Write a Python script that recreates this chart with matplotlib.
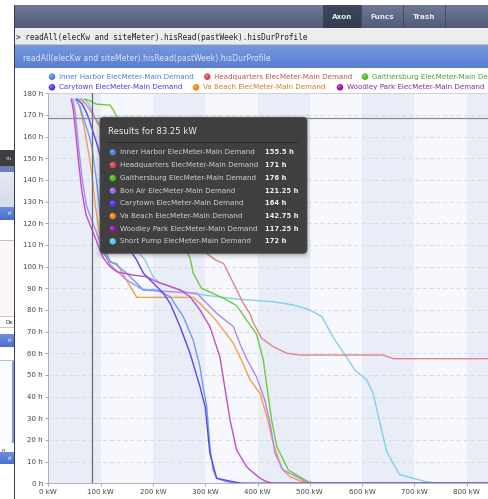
import matplotlib
matplotlib.use("Agg")
import matplotlib.pyplot as plt
from matplotlib.patches import Rectangle, FancyBboxPatch, Circle
import matplotlib.colors as mcolors

# ---------------- data ----------------
series_names = [
    "Inner Harbor ElecMeter-Main Demand",
    "Headquarters ElecMeter-Main Demand",
    "Gaithersburg ElecMeter-Main Demand",
    "Bon Air ElecMeter-Main Demand",
    "Carytown ElecMeter-Main Demand",
    "Va Beach ElecMeter-Main Demand",
    "Woodley Park ElecMeter-Main Demand",
    "Short Pump ElecMeter-Main Demand",
]

inner_harbor_kw = [52, 60, 68, 76, 83.25, 92, 100, 108, 118, 131, 150, 182, 207, 233, 258, 277, 290, 296, 303, 309, 315, 322, 340, 360, 850]
inner_harbor_h = [177.25, 174, 168, 162, 155.5, 140, 122, 108, 102.5, 100.7, 96.9, 89.2, 89.2, 86.1, 76.9, 66.1, 53.8, 44.6, 35.3, 16.9, 6.1, 2.3, 0.8, 0, 0]

headquarters_kw = [62, 72, 83.25, 95, 110, 140, 180, 220, 260, 290, 303, 320, 335, 354, 373, 386, 392, 408, 430, 456, 481, 640, 660, 850]
headquarters_h = [177.25, 175, 171, 166, 160, 148, 135, 123, 113, 108, 106, 103, 101.5, 92.3, 83, 78, 74, 66.9, 63, 60, 59.2, 59.2, 57.5, 57.5]

gaithersburg_kw = [70, 80, 83.25, 92, 118, 125, 131, 150, 180, 210, 240, 262, 271, 277, 293, 335, 360, 379, 398, 411, 418, 427, 437, 459, 478, 497, 510, 850]
gaithersburg_h = [177.25, 176.5, 176, 175, 174.5, 172, 169, 160, 146, 132, 118, 108, 104, 97, 90, 85.4, 82, 75.4, 69, 57, 44.6, 29.2, 16.9, 6.1, 3.4, 0.7, 0, 0]

bon_air_kw = [47, 52, 58, 65, 73, 83.25, 95, 105, 118, 131, 150, 182, 284, 322, 354, 367, 379, 398, 414, 424, 433.5, 449, 475, 493, 510, 850]
bon_air_h = [177.25, 170, 155, 140, 128, 121.25, 114, 107, 101, 98, 93.8, 89.2, 87.7, 78.4, 72.3, 64, 57.5, 49.2, 38.4, 27.7, 13.8, 6.1, 3, 0.7, 0, 0]

carytown_kw = [55, 65, 75, 83.25, 95, 110, 130, 150, 169, 182, 201, 220, 233, 252, 271, 290, 300, 309, 322, 354, 370, 850]
carytown_h = [177.25, 175, 170, 164, 155, 140, 122, 110, 103, 96.9, 92.3, 87.7, 83, 72.3, 60, 44.6, 35.3, 13.8, 2.3, 0.7, 0, 0]

va_beach_kw = [53, 60, 68, 76, 83.25, 90, 98, 106, 118, 131, 153, 169, 277, 290, 315, 354, 367, 386, 405, 418, 430, 446, 462, 481, 493, 510, 850]
va_beach_h = [177.25, 174, 165, 154, 142.75, 128, 115, 106, 102, 101.5, 92.3, 85.8, 85.8, 83, 76.9, 64.6, 58, 47.7, 41.5, 30.7, 18.5, 6.9, 3, 1.2, 0.3, 0, 0]

woodley_park_kw = [44, 48, 53, 58, 64, 72, 83.25, 95, 105, 118, 131, 162, 188, 207, 226, 252, 271, 290, 309, 328, 347.5, 360, 379, 386, 405, 418, 430, 850]
woodley_park_h = [177.25, 172, 160, 148, 135, 124, 117.25, 110, 104, 100, 97.6, 96.1, 95.3, 93, 91.5, 89.2, 86.1, 80, 72.3, 58.4, 29.2, 15.4, 7.7, 6.1, 2.3, 0.7, 0, 0]

short_pump_kw = [58, 70, 78, 83.25, 90, 100, 120, 150, 175, 185, 201, 214, 271, 347, 367, 430, 468, 500, 523, 548, 570, 586, 609, 621, 647, 672, 676, 698, 723, 749, 850]
short_pump_h = [177.25, 177, 175, 172, 168.5, 165, 150, 125, 106, 103, 95, 92.3, 87.7, 85.4, 84.9, 83.8, 82.3, 80, 76.9, 66.1, 58.4, 52.3, 47.7, 41.5, 14.6, 3.8, 3.8, 2.3, 0.7, 0, 0]

tooltip_kw = 83.25
crosshair_h = 168.6
tooltip_values = ["155.5 h", "171 h", "176 h", "121.25 h", "164 h", "142.75 h", "117.25 h", "172 h"]

x_ticks = [0, 100, 200, 300, 400, 500, 600, 700, 800]
x_tick_labels = ["0 kW", "100 kW", "200 kW", "300 kW", "400 kW", "500 kW", "600 kW", "700 kW", "800 kW"]
y_ticks = list(range(0, 181, 10))
y_tick_labels = [f"{v} h" for v in y_ticks]

command_text = "> readAll(elecKw and siteMeter).hisRead(pastWeek).hisDurProfile"
title_text = "readAll(elecKw and siteMeter).hisRead(pastWeek).hisDurProfile"
tabs = ["Axon", "Funcs", "Trash"]

# ---------------- style ----------------
line_colors = ["#6d9cf0", "#e08585", "#6ccc3a", "#ae8ae6", "#5846f2", "#f2a04a", "#c24ec6", "#80d0ea"]
dot_colors = ["#4a84ea", "#d84c4c", "#52c01e", "#9a6ddc", "#5236ee", "#f08a12", "#aa12aa", "#5cc8e2"]
legend_text_colors = ["#4a7cd6", "#b8504e", "#48a02a", "#8a66c8", "#4a38dc", "#cc7e1c", "#8a2898", "#4aa8c8"]

W, H, DPI = 488, 499, 100
fig = plt.figure(figsize=(W / DPI, H / DPI), dpi=DPI)
fig.patch.set_facecolor("white")

ui = fig.add_axes([0, 0, 1, 1], zorder=0)
ui.set_xlim(0, W)
ui.set_ylim(H, 0)
ui.axis("off")


def rect(ax, x0, y0, x1, y1, color, **kw):
    ax.add_patch(Rectangle((x0, y0), x1 - x0, y1 - y0, facecolor=color, edgecolor="none", **kw))


def vgrad(ax, x0, y0, x1, y1, ctop, cbot, **kw):
    import numpy as np
    ct = np.array(mcolors.to_rgb(ctop))
    cb = np.array(mcolors.to_rgb(cbot))
    n = int(round(y1 - y0)) * 2
    for i in range(n):
        t = i / max(n - 1, 1)
        c = ct * (1 - t) + cb * t
        ya = y0 + (y1 - y0) * i / n
        yb = y0 + (y1 - y0) * (i + 1) / n
        rect(ax, x0, ya, x1, yb + 0.05, tuple(c), **kw)


# ---- left background window fragments ----
rect(ui, 0, 150, 14, 165.5, "#3e3e40")
ui.text(12, 158, "su", color="#cfcfcf", fontsize=4, ha="right", va="center")
rect(ui, 0, 165.5, 14, 172, "#6f7cb8")
vgrad(ui, 0, 172, 14, 206.5, "#e6e9f2", "#d6dbea")
vgrad(ui, 0, 206.5, 14, 220, "#6b8ee0", "#4a6fcc")
ui.text(12, 213.5, "rt", color="white", fontsize=4, ha="right", va="center")
rect(ui, 0, 239.5, 14, 240.5, "#c0c0c0")
rect(ui, 0, 240.5, 14, 316, "#fbf6f6")
rect(ui, 0, 316, 14, 317, "#c8c8c8")
ui.text(13.5, 322, "De", color="#333333", fontsize=4, ha="right", va="center")
rect(ui, 0, 327, 14, 328, "#c8c8c8")
vgrad(ui, 0, 334, 14, 347, "#6b8ee0", "#4a6fcc")
ui.text(12, 340.5, "rt", color="white", fontsize=4, ha="right", va="center")
rect(ui, 0, 359.5, 14, 360.5, "#c0c0c0")
rect(ui, 0, 360.5, 14, 443, "#fafbff")
rect(ui, 12.3, 360.5, 13.5, 443, "#7f9de6")
ui.text(2, 450, "n", color="#333333", fontsize=4, ha="left", va="center")
vgrad(ui, 0, 452, 14, 464, "#6b8ee0", "#4a6fcc")
ui.text(12, 458, "rt", color="white", fontsize=4, ha="right", va="center")

# ---- main window border ----
rect(ui, 14, 5, 15.3, H, "#3d3650")

# ---- toolbar ----
vgrad(ui, 15.3, 5, W, 28.3, "#6e7894", "#515b77")
vgrad(ui, 323, 5, 361.7, 28.3, "#3f475c", "#353c4f")
for xs in [361.7, 403, 445]:
    rect(ui, xs - 0.5, 5, xs + 0.5, 28.3, "#444c62")
tab_centers = [342.5, 382.5, 424]
for name, cx in zip(tabs, tab_centers):
    ui.text(cx, 16.8, name, color="#e8ebf2", fontsize=5.2, fontweight="bold", ha="center", va="center")

# ---- command line ----
rect(ui, 15.3, 28.3, W, 45, "#ededed")
rect(ui, 15.3, 44.3, W, 45, "#c6c6c6")
ui.text(15.5, 37.2, command_text, family="DejaVu Sans Mono", fontsize=5.55, color="#222222", ha="left", va="center")

# ---- title bar ----
vgrad(ui, 15.3, 45, W, 67.5, "#7397dd", "#5a7ecf")
ui.text(23.3, 58.5, title_text, fontsize=5.6, color="#dde7fa", ha="left", va="center")

# ---- legend ----
legend_slots = [(0, 52, 76.7), (1, 207.3, 76.7), (2, 365, 76.7),
                (4, 52, 87.3), (5, 196, 87.3), (6, 340, 87.3)]
for idx, mx, my in legend_slots:
    ui.add_patch(Circle((mx, my), 3.3, facecolor=dot_colors[idx], edgecolor="none"))
    ui.add_patch(Circle((mx - 0.8, my - 0.9), 1.3, facecolor="white", alpha=0.35, edgecolor="none"))
    ui.text(mx + 7, my, series_names[idx], fontsize=5.1, color=legend_text_colors[idx], ha="left", va="center")

# ---------------- chart ----------------
px_per_kw = 0.523
px_per_h = 2.167
x0_px, y0_px, top_px = 48.3, 483.3, 92.7
ax = fig.add_axes([x0_px / W, (H - y0_px) / H, (W - x0_px) / W, (y0_px - top_px) / H], zorder=1)
ax.set_xlim(0, (W - x0_px) / px_per_kw)
ax.set_ylim(0, (y0_px - top_px) / px_per_h)
ax.set_facecolor("#f7f8fd")

for start in range(0, 900, 200):
    ax.axvspan(start, start + 100, facecolor="#e9edf8", edgecolor="none", zorder=0)

for v in y_ticks[1:]:
    ax.axhline(v, color="#d9dbe0", lw=0.7, ls=(0, (4, 3)), zorder=1)

series_kw = [inner_harbor_kw, headquarters_kw, gaithersburg_kw, bon_air_kw,
             carytown_kw, va_beach_kw, woodley_park_kw, short_pump_kw]
series_h = [inner_harbor_h, headquarters_h, gaithersburg_h, bon_air_h,
            carytown_h, va_beach_h, woodley_park_h, short_pump_h]
draw_order = [7, 5, 3, 2, 1, 0, 6, 4]
for z, i in enumerate(draw_order):
    ax.plot(series_kw[i], series_h[i], color=line_colors[i], lw=1.0, zorder=3 + z,
            solid_joinstyle="round", clip_on=True)
    ax.plot(series_kw[i], series_h[i], color=line_colors[i], lw=1.0, zorder=3 + z,
            solid_joinstyle="round", clip_on=False, alpha=0)

# crosshair
ax.axvline(tooltip_kw, color="#6a6a72", lw=0.9, zorder=20)
ax.axhline(crosshair_h, color="#8a8a90", lw=0.9, zorder=20)

ax.set_xticks(x_ticks)
ax.set_xticklabels(x_tick_labels)
ax.set_yticks(y_ticks)
ax.set_yticklabels(y_tick_labels)
ax.tick_params(axis="both", labelsize=5, colors="#444444", length=2.2, width=0.6, pad=1.6)
ax.tick_params(axis="x", pad=2.0)
for lab in ax.get_xticklabels() + ax.get_yticklabels():
    lab.set_color("#444444")
for s in ["right"]:
    ax.spines[s].set_visible(False)
ax.spines["left"].set_color("#b0b0b8")
ax.spines["bottom"].set_color("#b0b0b8")
ax.spines["top"].set_color("#d0d0d4")
for s in ["left", "bottom", "top"]:
    ax.spines[s].set_linewidth(0.7)
ax.tick_params(colors="#999999")
for lab in ax.get_xticklabels() + ax.get_yticklabels():
    lab.set_color("#444444")

# ---------------- tooltip ----------------
tip = fig.add_axes([0, 0, 1, 1], zorder=5)
tip.set_xlim(0, W)
tip.set_ylim(H, 0)
tip.axis("off")
tip.patch.set_alpha(0)

bx0, by0, bx1, by1 = 100, 117.3, 307, 253.3
for k, a in [(5, 0.04), (3.5, 0.05), (2, 0.07), (1, 0.09)]:
    tip.add_patch(FancyBboxPatch((bx0 - k + 1, by0 - k + 2.5), (bx1 - bx0) + 2 * k - 2, (by1 - by0) + 2 * k - 2,
                                 boxstyle="round,pad=0,rounding_size=5", facecolor="black", alpha=a, edgecolor="none"))
tip.add_patch(FancyBboxPatch((bx0, by0), bx1 - bx0, by1 - by0, boxstyle="round,pad=0,rounding_size=4",
                             facecolor="#3c3c3d", edgecolor="#505052", lw=0.6, alpha=0.97))
tip.text(108.3, 131.5, f"Results for {tooltip_kw} kW", fontsize=6.1, color="#f0f0f0", ha="left", va="center")
tip.add_patch(Rectangle((108, 141.8), 190, 0.8, facecolor="#2a2a2a", edgecolor="none"))
tip.add_patch(Rectangle((108, 142.6), 190, 0.5, facecolor="#555557", edgecolor="none"))
row_y = [152.3, 165.0, 178.0, 190.7, 203.3, 216.0, 228.7, 241.3]
for i, ry in enumerate(row_y):
    tip.add_patch(Circle((112.7, ry), 3.2, facecolor=dot_colors[i], edgecolor="none"))
    tip.add_patch(Circle((111.9, ry - 0.9), 1.2, facecolor="white", alpha=0.3, edgecolor="none"))
    tip.text(120.5, ry, series_names[i], fontsize=5.1, color="#d2d2d4", ha="left", va="center")
    tip.text(265, ry, tooltip_values[i], fontsize=4.9, fontweight="bold", color="#f2f2f2", ha="left", va="center")

fig.savefig("out.png", dpi=DPI, facecolor="white")
